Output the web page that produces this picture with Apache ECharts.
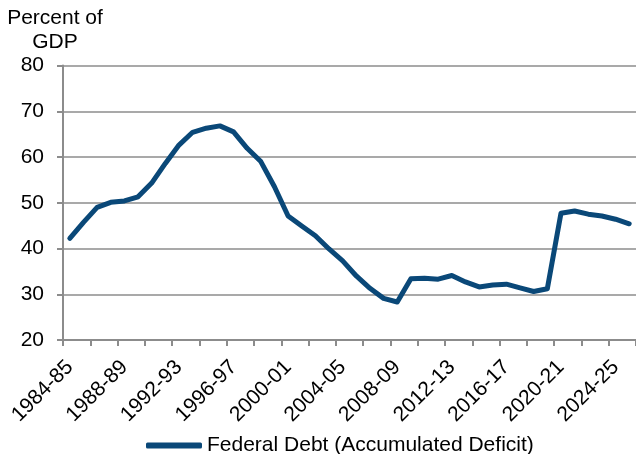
<!DOCTYPE html>
<html>
<head>
<meta charset="utf-8">
<script src="https://cdn.jsdelivr.net/npm/echarts@6/dist/echarts.min.js"></script>
<style>
html,body{margin:0;padding:0;background:#fff;}
#chart{width:636px;height:454px;}
</style>
</head>
<body>
<div id="chart"></div>
<script>
const categories = [
  '1984-85','1985-86','1986-87','1987-88','1988-89','1989-90','1990-91','1991-92',
  '1992-93','1993-94','1994-95','1995-96','1996-97','1997-98','1998-99','1999-00',
  '2000-01','2001-02','2002-03','2003-04','2004-05','2005-06','2006-07','2007-08',
  '2008-09','2009-10','2010-11','2011-12','2012-13','2013-14','2014-15','2015-16',
  '2016-17','2017-18','2018-19','2019-20','2020-21','2021-22','2022-23','2023-24',
  '2024-25','2025-26'
];
const federalDebt = [
  42.2, 45.7, 49.0, 50.1, 50.4, 51.3, 54.3, 58.6,
  62.6, 65.4, 66.3, 66.8, 65.5, 61.9, 59.0, 53.5,
  47.1, 44.9, 42.8, 39.9, 37.3, 34.0, 31.3, 29.1,
  28.3, 33.4, 33.5, 33.3, 34.1, 32.7, 31.6, 32.0,
  32.2, 31.4, 30.6, 31.2, 47.7, 48.2, 47.5, 47.1,
  46.4, 45.4
];
const yTicks = { min: 20, max: 80, interval: 10 };
const seriesName = 'Federal Debt (Accumulated Deficit)';
const yAxisTitle = 'Percent of\nGDP';

const FONT = "'Liberation Sans', Arial, sans-serif";
const chart = echarts.init(document.getElementById('chart'), null, { renderer: 'canvas' });
chart.setOption({
  animation: false,
  backgroundColor: '#ffffff',
  grid: { left: 63, top: 65.5, width: 575.8, height: 274.5, containLabel: false },
  legend: {
    data: [seriesName],
    left: 141,
    top: 430,
    icon: 'roundRect',
    itemWidth: 56,
    itemHeight: 6,
    itemGap: 10,
    textStyle: { fontFamily: FONT, fontSize: 21, color: '#000' }
  },
  xAxis: {
    type: 'category',
    data: categories,
    boundaryGap: true,
    axisLine: { show: true, lineStyle: { color: '#8c8c8c', width: 2 } },
    axisTick: { show: true, interval: 1, length: 6, lineStyle: { color: '#8c8c8c', width: 2 } },
    axisLabel: {
      interval: 3,
      rotate: 45,
      margin: 24,
      fontFamily: FONT,
      fontSize: 21,
      color: '#000'
    },
    splitLine: { show: false }
  },
  yAxis: {
    type: 'value',
    min: yTicks.min,
    max: yTicks.max,
    interval: yTicks.interval,
    name: yAxisTitle,
    nameLocation: 'end',
    nameGap: 11,
    nameTextStyle: {
      fontFamily: FONT, fontSize: 21, color: '#000', align: 'center',
      verticalAlign: 'bottom', lineHeight: 24, padding: [0, 16, 0, 0]
    },
    axisLine: { show: true, lineStyle: { color: '#8c8c8c', width: 2 } },
    axisTick: { show: true, length: 6, lineStyle: { color: '#8c8c8c', width: 2 } },
    axisLabel: { margin: 19, fontFamily: FONT, fontSize: 21, color: '#000' },
    splitLine: { show: true, lineStyle: { color: '#8c8c8c', width: 1.5 } }
  },
  series: [{
    name: seriesName,
    type: 'line',
    data: federalDebt,
    symbol: 'none',
    smooth: false,
    lineStyle: { color: '#0a4878', width: 5, cap: 'round', join: 'round' },
    itemStyle: { color: '#0a4878' }
  }]
});
</script>
</body>
</html>
